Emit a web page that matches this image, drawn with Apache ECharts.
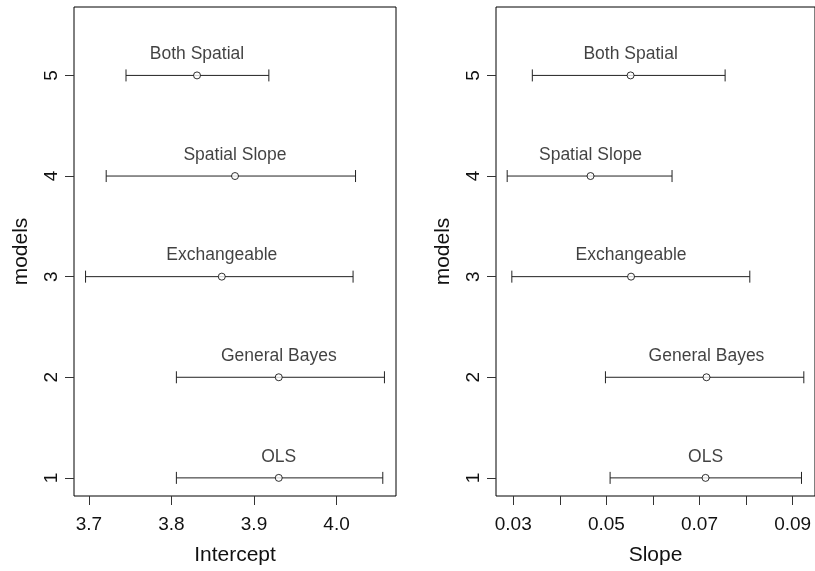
<!DOCTYPE html>
<html>
<head>
<meta charset="utf-8">
<script src="https://cdn.jsdelivr.net/npm/echarts@6/dist/echarts.min.js"></script>
<style>
  html, body { margin: 0; padding: 0; background: #fff; }
  #chart { width: 815px; height: 571px; }
</style>
</head>
<body>
<div id="chart"></div>
<script>
// models on the y axis, 1 at the bottom
var models = [1, 2, 3, 4, 5];
var modelNames = ['OLS', 'General Bayes', 'Exchangeable', 'Spatial Slope', 'Both Spatial'];

// intercept estimates and intervals
var interceptEst  = [3.930, 3.930, 3.861, 3.877, 3.831];
var interceptLow  = [3.806, 3.806, 3.696, 3.721, 3.745];
var interceptHigh = [4.056, 4.058, 4.020, 4.023, 3.918];

// slope estimates and intervals
var slopeEst  = [0.0713, 0.0715, 0.0553, 0.0466, 0.0552];
var slopeLow  = [0.0508, 0.0498, 0.0297, 0.0287, 0.0341];
var slopeHigh = [0.0919, 0.0924, 0.0808, 0.0641, 0.0755];

// ticks
var interceptTicks = [3.7, 3.8, 3.9, 4.0];
var slopeTicks = [0.03, 0.04, 0.05, 0.06, 0.07, 0.08, 0.09];
var slopeLabels = [0.03, 0.05, 0.07, 0.09];

var FONT = 'Liberation Sans, Arial, Helvetica, sans-serif';
var INK = '#111';

function renderBar(params, api){
  var y = api.value(0);
  var a = api.coord([api.value(1), y]);
  var b = api.coord([api.value(2), y]);
  var st = { stroke: '#222', lineWidth: 1 };
  return {
    type: 'group',
    children: [
      { type: 'line', shape: { x1: a[0], y1: a[1], x2: b[0], y2: b[1] }, style: st },
      { type: 'line', shape: { x1: a[0], y1: a[1] - 6, x2: a[0], y2: a[1] + 6 }, style: st },
      { type: 'line', shape: { x1: b[0], y1: b[1] - 6, x2: b[0], y2: b[1] + 6 }, style: st }
    ]
  };
}

function barData(low, high){
  var res = [];
  for(var i = 0; i < models.length; i++){
    res.push([models[i], low[i], high[i]]);
  }
  return res;
}
function pointData(est){
  var res = [];
  for(var i = 0; i < models.length; i++){
    res.push({ value: [est[i], models[i]], name: modelNames[i] });
  }
  return res;
}

function xAxisOf(idx, name, min, max, ticks, labels, digits){
  return {
    type: 'value', gridIndex: idx, min: min, max: max,
    name: name, nameLocation: 'middle', nameGap: 49,
    nameTextStyle: { fontFamily: FONT, fontSize: 21, color: INK },
    axisLine: { show: false },
    axisTick: { show: true, length: 9, customValues: ticks, lineStyle: { color: '#333' } },
    axisLabel: {
      customValues: labels, margin: 19,
      fontFamily: FONT, fontSize: 19, color: INK,
      formatter: function(v){ return (+v).toFixed(digits); }
    },
    splitLine: { show: false }
  };
}
function yAxisOf(idx){
  return {
    type: 'value', gridIndex: idx, min: 0.82, max: 5.68,
    name: 'models', nameLocation: 'middle', nameGap: 42, nameRotate: 90,
    nameTextStyle: { fontFamily: FONT, fontSize: 21, color: INK },
    axisLine: { show: false },
    axisTick: { show: true, length: 9, customValues: models, lineStyle: { color: '#333' } },
    axisLabel: {
      customValues: models, margin: 13, rotate: 90,
      fontFamily: FONT, fontSize: 19, color: INK
    },
    splitLine: { show: false }
  };
}

function barSeries(idx, low, high){
  return {
    type: 'custom', xAxisIndex: idx, yAxisIndex: idx,
    renderItem: renderBar,
    encode: { x: [1, 2], y: 0 },
    data: barData(low, high),
    z: 2
  };
}
function pointSeries(idx, est){
  return {
    type: 'scatter', xAxisIndex: idx, yAxisIndex: idx,
    symbol: 'circle', symbolSize: 7,
    itemStyle: { color: '#fff', borderColor: '#000', borderWidth: 1 },
    label: {
      show: true, position: 'top', distance: 8,
      formatter: function(p){ return p.name; },
      fontFamily: FONT, fontSize: 17.5, color: INK
    },
    data: pointData(est),
    z: 3
  };
}

var chart = echarts.init(document.getElementById('chart'));
chart.setOption({
  animation: false,
  backgroundColor: '#fff',
  grid: [
    { left: 74, top: 7, width: 322, height: 495, show: true, borderColor: '#000', borderWidth: 1 },
    { left: 496, top: 7, width: 322, height: 495, show: true, borderColor: '#000', borderWidth: 1 }
  ],
  xAxis: [
    xAxisOf(0, 'Intercept', 3.682, 4.072, interceptTicks, interceptTicks, 1),
    xAxisOf(1, 'Slope', 0.0263, 0.0948, slopeTicks, slopeLabels, 2)
  ],
  yAxis: [yAxisOf(0), yAxisOf(1)],
  series: [
    barSeries(0, interceptLow, interceptHigh),
    pointSeries(0, interceptEst),
    barSeries(1, slopeLow, slopeHigh),
    pointSeries(1, slopeEst)
  ]
});
</script>
</body>
</html>
